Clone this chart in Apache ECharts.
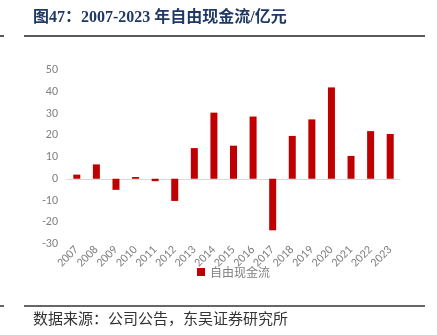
<!DOCTYPE html>
<html><head><meta charset="utf-8">
<script src="https://cdn.jsdelivr.net/npm/echarts@6/dist/echarts.min.js"></script>
<style>html,body{margin:0;padding:0;background:#fff}#c{width:437px;height:335px}</style>
</head><body><div id="c"></div>
<script>
var categories = ['2007','2008','2009','2010','2011','2012','2013','2014','2015','2016','2017','2018','2019','2020','2021','2022','2023'];
var fcf = [1.9, 6.6, -5.1, 0.8, -1.1, -10.2, 14.1, 30.4, 15.2, 28.6, -23.7, 19.7, 27.3, 42.0, 10.5, 21.9, 20.6];
var seriesName = '自由现金流';
var titleText = '图47：2007-2023 年自由现金流/亿元';
var sourceText = '数据来源：公司公告，东吴证券研究所';
var yMin = -30, yMax = 50, yStep = 10;

var chart = echarts.init(document.getElementById('c'), null, {renderer:'canvas'});
chart.setOption({
  animation:false,
  backgroundColor:'#fff',
  grid:{left:67, right:37, top:70, bottom:91, containLabel:false},
  legend:{
    data:[seriesName], left:192, top:261, itemWidth:8, itemHeight:8, itemGap:3,
    icon:'rect',
    textStyle:{color:'#7f7f7f', fontSize:12, fontFamily:'"Noto Sans CJK SC", serif'}
  },
  xAxis:{
    type:'category', data:categories,
    axisLine:{lineStyle:{color:'#d9d9d9', width:1}},
    axisTick:{show:false},
    axisLabel:{rotate:45, interval:0, color:'#7f7f7f', fontSize:12, fontFamily:'Carlito, "Liberation Sans", "Open Sans", sans-serif', margin:4}
  },
  yAxis:{
    type:'value', min:yMin, max:yMax, interval:yStep,
    axisLine:{show:false}, axisTick:{show:false}, splitLine:{show:false},
    axisLabel:{color:'#7f7f7f', fontSize:12, fontFamily:'Carlito, "Liberation Sans", sans-serif', margin:9}
  },
  series:[{
    name:seriesName, type:'bar', data:fcf, barWidth:7,
    itemStyle:{color:'#c00000'}
  }],
  graphic:[
    {type:'text', left:33, top:10, style:{text:titleText, fill:'#1f3864', font:'bold 16px "Liberation Serif", "Noto Sans CJK SC", serif'}},
    {type:'line', shape:{x1:24, y1:36, x2:425, y2:36}, style:{stroke:'#222', lineWidth:1.5}},
    {type:'line', shape:{x1:0, y1:36, x2:4, y2:36}, style:{stroke:'#222', lineWidth:1.5}},
    {type:'line', shape:{x1:24, y1:306, x2:425, y2:306}, style:{stroke:'#333', lineWidth:1.5}},
    {type:'line', shape:{x1:0, y1:306, x2:4, y2:306}, style:{stroke:'#333', lineWidth:1.5}},
    {type:'text', left:33, top:311, style:{text:sourceText, fill:'#333', font:'15px "Noto Sans CJK SC", serif'}}
  ]
});
</script></body></html>
